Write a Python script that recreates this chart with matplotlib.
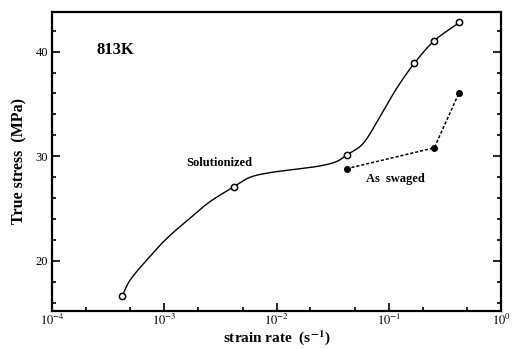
import matplotlib
matplotlib.use("Agg")
import matplotlib.pyplot as plt
import numpy as np
from matplotlib.ticker import LogLocator, MultipleLocator, FixedLocator

# measured points (strain rate in 1/s, true stress in MPa)
sol_rate = [4.2e-4, 4.2e-3, 0.042, 0.169, 0.254, 0.422]
sol_stress = [16.6, 27.1, 30.1, 38.9, 41.0, 42.8]

swaged_rate = [0.042, 0.254, 0.422]
swaged_stress = [28.8, 30.8, 36.05]

# hand-drawn trend line through the solutionized data
trend_rate = [4.23e-4, 4.99e-4, 7.02e-4, 1.06e-3, 1.70e-3, 2.56e-3, 4.20e-3,
              5.82e-3, 8.77e-3, 0.0151, 0.0244, 0.0341, 0.0422, 0.0593,
              0.0835, 0.1175, 0.1686, 0.254, 0.422]
trend_stress = [16.66, 18.19, 20.1, 22.17, 24.08, 25.66, 27.10,
                27.99, 28.43, 28.76, 29.07, 29.48, 30.12, 31.24,
                33.78, 36.49, 38.88, 41.04, 42.76]

x_ticks = [1e-4, 1e-3, 1e-2, 1e-1, 1e0]
x_tick_labels = [r"$10^{-4}$", r"$10^{-3}$", r"$10^{-2}$", r"$10^{-1}$", r"$10^{0}$"]
y_ticks = [20, 30, 40]


def smooth_log(xs, ys, n=12):
    # catmull-rom through the traced points, done in log-x so it looks right on the log axis
    px = np.log10(xs)
    py = np.asarray(ys, dtype=float)
    px = np.concatenate([[2 * px[0] - px[1]], px, [2 * px[-1] - px[-2]]])
    py = np.concatenate([[2 * py[0] - py[1]], py, [2 * py[-1] - py[-2]]])
    out_x, out_y = [], []
    t = np.linspace(0, 1, n, endpoint=False)
    for i in range(1, len(px) - 2):
        for p, out in ((px, out_x), (py, out_y)):
            p0, p1, p2, p3 = p[i - 1], p[i], p[i + 1], p[i + 2]
            out.extend(0.5 * (2 * p1 + (-p0 + p2) * t + (2 * p0 - 5 * p1 + 4 * p2 - p3) * t ** 2
                              + (-p0 + 3 * p1 - 3 * p2 + p3) * t ** 3))
    out_x.append(px[-2])
    out_y.append(py[-2])
    return 10 ** np.array(out_x), np.array(out_y)


plt.rcParams["font.family"] = ["Liberation Serif", "DejaVu Serif"]
plt.rcParams["mathtext.fontset"] = "stix"

fig = plt.figure(figsize=(5.15, 3.49), dpi=100)
ax = fig.add_axes([0.101, 0.109, 0.872, 0.857])

tx, ty = smooth_log(trend_rate, trend_stress)
ax.plot(tx, ty, color="black", lw=1.0)
ax.plot(sol_rate, sol_stress, "o", ms=4.5, mfc="white", mec="black", mew=1.1)
ax.plot(swaged_rate, swaged_stress, color="black", lw=1.1, ls=(0, (2, 1.3)),
        marker="o", ms=4, mfc="black", mec="black")

ax.set_xscale("log")
ax.set_xlim(1e-4, 1e0)
ax.set_ylim(15.2, 43.8)

ax.xaxis.set_major_locator(FixedLocator(x_ticks))
ax.set_xticklabels(x_tick_labels)
ax.xaxis.set_minor_locator(LogLocator(base=10, subs=(2.0, 5.0)))
ax.set_yticks(y_ticks)
ax.yaxis.set_minor_locator(MultipleLocator(2))

ax.tick_params(which="both", direction="in", top=False, right=True,
               labelsize=9, width=1.2)
ax.tick_params(which="major", length=6)
ax.tick_params(which="minor", length=3)
ax.tick_params(axis="x", pad=1.5)
ax.tick_params(axis="y", pad=3)
for side in ax.spines.values():
    side.set_linewidth(1.6)

ax.set_xlabel(r"strain rate  (s$^{\mathbf{-1}}$)", fontsize=11, fontweight="bold", labelpad=0)
ax.set_ylabel("True stress  (MPa)", fontsize=11.5, fontweight="bold", labelpad=6)

ax.text(0.1, 0.86, "813K", transform=ax.transAxes, fontsize=12, fontweight="bold")
ax.text(0.3, 0.485, "Solutionized", transform=ax.transAxes, fontsize=9, fontweight="bold")
ax.text(0.7, 0.43, "As  swaged", transform=ax.transAxes, fontsize=9, fontweight="bold")

fig.savefig("out.png", dpi=100)
